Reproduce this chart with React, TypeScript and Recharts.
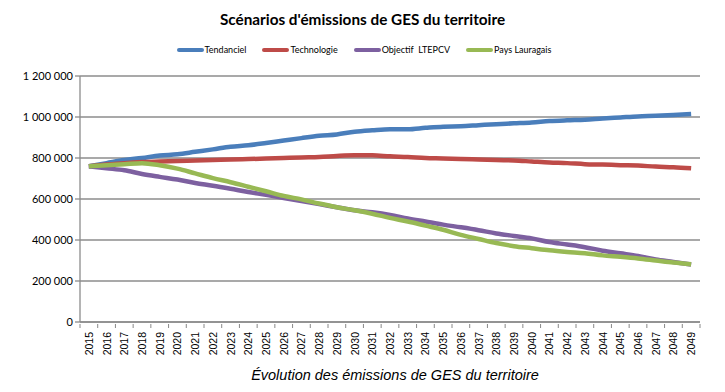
import { LineChart, Line, XAxis, YAxis, CartesianGrid, Label } from "recharts";

const YEARS = [
  "2015", "2016", "2017", "2018", "2019", "2020", "2021", "2022", "2023", "2024",
  "2025", "2026", "2027", "2028", "2029", "2030", "2031", "2032", "2033", "2034",
  "2035", "2036", "2037", "2038", "2039", "2040", "2041", "2042", "2043", "2044",
  "2045", "2046", "2047", "2048", "2049",
];

// valeurs en milliers de tonnes éq. CO2
const TENDANCIEL = [
  760, 775, 790, 800, 812, 818, 830, 842, 855, 862,
  873, 885, 897, 908, 915, 928, 935, 940, 940, 947,
  953, 955, 960, 965, 969, 973, 980, 984, 987, 993,
  998, 1003, 1006, 1010, 1015,
];
const TECHNOLOGIE = [
  760, 768, 775, 780, 783, 785, 788, 790, 793, 795,
  797, 800, 803, 805, 810, 813, 813, 808, 805, 800,
  798, 795, 793, 790, 788, 783, 778, 775, 770, 768,
  765, 763, 758, 755, 750,
];
const OBJECTIF = [
  760, 750, 740, 722, 708, 695, 678, 665, 650, 634,
  620, 605, 590, 575, 560, 545, 535, 522, 505, 490,
  475, 462, 448, 432, 420, 408, 390, 378, 365, 348,
  335, 322, 305, 293, 280,
];
const LAURAGAIS = [
  760, 765, 770, 775, 765, 748, 725, 702, 682, 660,
  638, 615, 598, 578, 560, 545, 528, 508, 490, 470,
  450, 425, 405, 385, 370, 360, 350, 342, 335, 325,
  318, 310, 300, 290, 282,
];
const Y_TICKS = [0, 200000, 400000, 600000, 800000, 1000000, 1200000];

const SERIES = [
  { key: "Tendanciel", values: TENDANCIEL, color: "#4a7ebb" },
  { key: "Technologie", values: TECHNOLOGIE, color: "#be4b48" },
  { key: "Objectif  LTEPCV", values: OBJECTIF, color: "#7d60a0" },
  { key: "Pays Lauragais", values: LAURAGAIS, color: "#98b954" },
];

const rows = YEARS.map((year, i) => {
  const r: Record<string, number | string> = { year };
  for (const s of SERIES) r[s.key] = s.values[i] * 1000;
  return r;
});

const fmtSpace = (v: number) => String(v).replace(/\B(?=(\d{3})+(?!\d))/g, " ");

const BAND = 620 / YEARS.length;

function YearTick(props: any) {
  const { x, y, payload, index } = props;
  return (
    <g>
      <line x1={x - BAND / 2} x2={x - BAND / 2} y1={y - 8} y2={y - 4} stroke="#888" />
      {index === YEARS.length - 1 && (
        <line x1={x + BAND / 2} x2={x + BAND / 2} y1={y - 8} y2={y - 4} stroke="#888" />
      )}
      <text
        x={x}
        y={y}
        transform={`rotate(-90 ${x} ${y})`}
        textAnchor="end"
        dy={4}
        fontSize={10.5}
        fontFamily="Liberation Sans, Arial, sans-serif"
        fill="#000"
      >
        {payload.value}
      </text>
    </g>
  );
}

export default function App() {
  return (
    <div style={{ position: "absolute", left: 0, top: 0, width: 725, height: 392, background: "#fff" }}>
      <div
        style={{
          position: "absolute",
          top: 10,
          left: 0,
          width: 725,
          textAlign: "center",
          fontFamily: "Lato, sans-serif",
          fontWeight: "bold",
          fontSize: 15.3,
          color: "#000",
        }}
      >
        Scénarios d'émissions de GES du territoire
      </div>
      <div
        style={{
          position: "absolute",
          top: 44,
          left: 0,
          width: 728,
          display: "flex",
          justifyContent: "center",
          gap: 16,
          fontFamily: "Lato, sans-serif",
          fontSize: 9,
          color: "#000",
        }}
      >
        {SERIES.map((s) => (
          <div key={s.key} style={{ display: "flex", alignItems: "center", whiteSpace: "pre" }}>
            <span
              style={{
                display: "inline-block",
                width: 27,
                height: 4,
                borderRadius: 2,
                background: s.color,
                marginRight: 1,
              }}
            />
            {s.key}
          </div>
        ))}
      </div>
      <LineChart
        width={725}
        height={392}
        data={rows}
        margin={{ top: 76, right: 25, left: 0, bottom: 0 }}
      >
        <CartesianGrid horizontal vertical={false} stroke="#8c8c8c" strokeWidth={1.3} />
        <XAxis
          dataKey="year"
          interval={0}
          padding={{ left: BAND / 2, right: BAND / 2 }}
          tickLine={false}
          axisLine={{ stroke: "#8c8c8c", strokeWidth: 1.3 }}
          tick={<YearTick />}
          height={70}
          tickMargin={4}
        >
          <Label
            value="Évolution des émissions de GES du territoire"
            position="insideBottom"
            offset={12}
            dx={5}
            style={{
              fontFamily: "Liberation Sans, Arial, sans-serif",
              fontStyle: "italic",
              fontSize: 14.5,
              fill: "#000",
            }}
          />
        </XAxis>
        <YAxis
          width={80}
          domain={[0, 1200000]}
          ticks={Y_TICKS}
          interval={0}
          tickFormatter={(v) => fmtSpace(v as number)}
          axisLine={{ stroke: "#8c8c8c", strokeWidth: 1.3 }}
          tickLine={{ stroke: "#8c8c8c", strokeWidth: 1.3 }}
          tickSize={5}
          tick={{ fill: "#000", fontSize: 11, fontFamily: "Lato, sans-serif" }}
        />
        {SERIES.map((s) => (
          <Line
            key={s.key}
            dataKey={s.key}
            stroke={s.color}
            strokeWidth={4.5}
            dot={false}
            type="monotone"
            isAnimationActive={false}
          />
        ))}
      </LineChart>
    </div>
  );
}
